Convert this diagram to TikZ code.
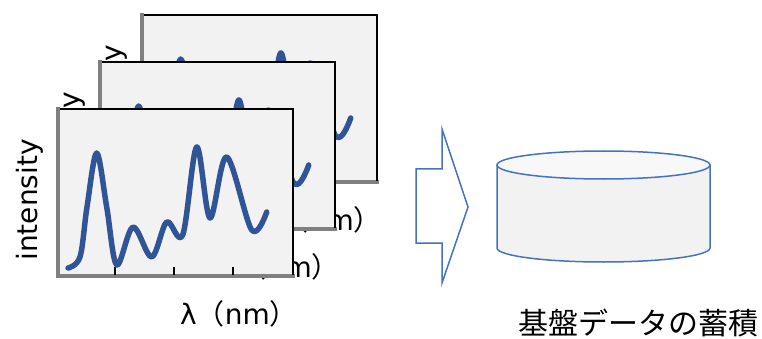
\documentclass[tikz,border=0pt]{standalone}
\usepackage{fontspec}
\setmainfont{Noto Sans CJK JP}
\newfontfamily\latina{DejaVu Sans}
\definecolor{curva}{HTML}{2F5597}
\definecolor{borde}{HTML}{4472C4}
\definecolor{fondo}{HTML}{F2F2F2}
\definecolor{tapa}{HTML}{F8F8F8}
\begin{document}
\begin{tikzpicture}[x=1pt, y=-1pt,
    etiqueta/.style={inner sep=0pt, font=\fontsize{28}{32}\selectfont},
    marco/.style={black, line width=1.5pt},
    eje/.style={gray, line width=4pt},
    espectro/.style={curva, line width=5.5pt, line cap=round, line join=round}]
    \useasboundingbox (0,0) rectangle (762,339);
    % Espectros apilados
    \foreach \dx/\dy/\n in {84/-94/c, 42/-47/b, 0/0/a} {
        \begin{scope}[shift={(58+\dx,109+\dy)}]
            \node[etiqueta, rotate=90] (int\n) at (-28,91) {\latina intensity};
            \node[etiqueta] (lam\n) at (181,205) {{\latina λ}（{\latina nm}）};
            \fill[fondo] (0,0) rectangle (235,167);
            \draw[marco] (0,0) -- (235,0) -- (235,167);
            \draw[eje] (0,-2) -- (0,167) -- (237,167);
            \foreach \t in {57,116,175,235}
                \draw[line width=2pt] (\t,166) -- (\t,158);
            \draw[espectro] plot[smooth, tension=0.55] coordinates {
                (10,159) (22,148) (29,98) (38.7,44) (48.7,98) (58.7,156)
                (75,118) (93.7,148) (108.7,113) (124.7,126) (138.7,38)
                (152,109) (168.7,48) (193.7,121) (208.7,103)};
        \end{scope}
    }
    % Flecha
    \draw[borde, line width=1.5pt, fill=white, line join=miter]
        (416,169) -- (442,169) -- (442,129) -- (468,207) -- (442,283)
        -- (442,243) -- (416,243) -- cycle;
    % Cilindro
    \filldraw[fill=fondo, draw=borde, line width=1.5pt]
        (497,165) -- (497,248) arc[start angle=180, end angle=0, x radius=106.5, y radius=14]
        -- (710,165);
    \filldraw[fill=tapa, draw=borde, line width=1.5pt]
        (603.5,165) ellipse[x radius=106.5, y radius=14];
    \node[inner sep=0pt, font=\fontsize{30}{32}\selectfont] (base) at (638,323) {基盤データの蓄積};
\end{tikzpicture}
\end{document}
